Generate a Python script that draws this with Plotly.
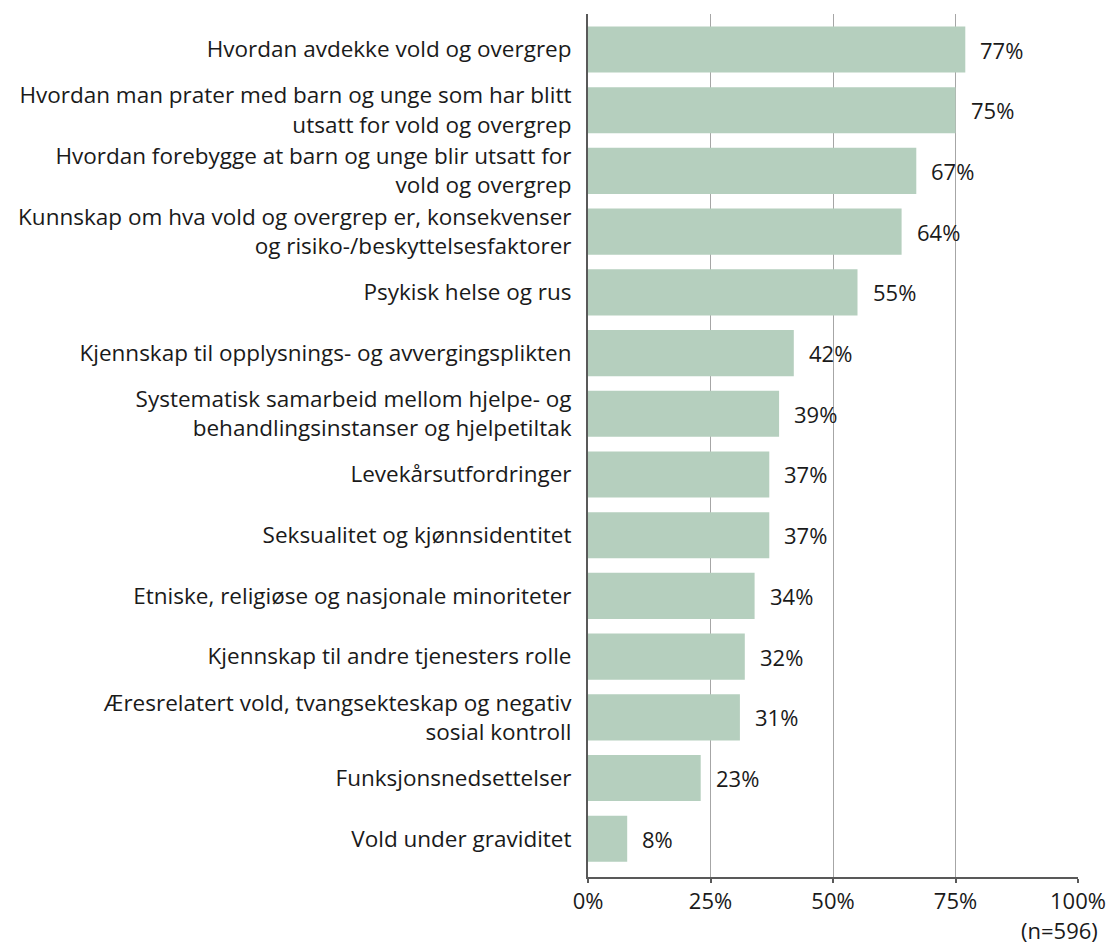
import plotly.graph_objects as go

categories = [
    "Hvordan avdekke vold og overgrep",
    "Hvordan man prater med barn og unge som har blitt<br>utsatt for vold og overgrep",
    "Hvordan forebygge at barn og unge blir utsatt for<br>vold og overgrep",
    "Kunnskap om hva vold og overgrep er, konsekvenser<br>og risiko-/beskyttelsesfaktorer",
    "Psykisk helse og rus",
    "Kjennskap til opplysnings- og avvergingsplikten",
    "Systematisk samarbeid mellom hjelpe- og<br>behandlingsinstanser og hjelpetiltak",
    "Levekårsutfordringer",
    "Seksualitet og kjønnsidentitet",
    "Etniske, religiøse og nasjonale minoriteter",
    "Kjennskap til andre tjenesters rolle",
    "Æresrelatert vold, tvangsekteskap og negativ<br>sosial kontroll",
    "Funksjonsnedsettelser",
    "Vold under graviditet",
]
values = [77, 75, 67, 64, 55, 42, 39, 37, 37, 34, 32, 31, 23, 8]
x_ticks = [0, 25, 50, 75, 100]
x_tick_labels = ["0%", "25%", "50%", "75%", "100%"]
sample_note = "(n=596)"

FONT = "Open Sans"
FS = 22
FS_CAT = 22.5
TEXT = "#1a1a1a"
BAR = "#b5cfbe"

# plot-area geometry in page pixels
W, H = 1108, 944
ML, MR, MT, MB = 588, 30, 14, 67

fig = go.Figure()
fig.add_trace(go.Bar(
    x=values,
    y=categories,
    orientation="h",
    width=0.76,
    marker=dict(color=BAR, line=dict(width=0)),
    hoverinfo="skip",
))

# value labels just past the end of each bar
for cat, v in zip(categories, values):
    fig.add_annotation(
        x=v, y=cat, text=f"{v}%", showarrow=False,
        xanchor="left", yanchor="middle", xshift=13,
        font=dict(family=FONT, size=FS, color=TEXT),
    )

# sample size note below the axis, right-aligned
fig.add_annotation(
    x=(1100 - ML) / (W - ML - MR),
    y=(H - MB - 930) / (H - MT - MB),
    xref="paper", yref="paper", text=sample_note,
    showarrow=False, xanchor="right", yanchor="middle",
    font=dict(family=FONT, size=FS, color=TEXT),
)

fig.update_layout(
    width=W, height=H,
    margin=dict(l=ML, r=MR, t=MT, b=MB, autoexpand=False),
    paper_bgcolor="white", plot_bgcolor="white",
    showlegend=False,
    font=dict(family=FONT, size=FS, color=TEXT),
    xaxis=dict(
        range=[0, 100],
        tickvals=x_ticks, ticktext=x_tick_labels,
        showgrid=True, gridcolor="#a6a6a6", gridwidth=1,
        showline=True, linecolor="#595959", linewidth=2,
        ticks="outside", ticklen=4, tickcolor="#595959", tickwidth=2,
        zeroline=False,
        tickfont=dict(family=FONT, size=FS, color=TEXT),
    ),
    yaxis=dict(
        type="category",
        range=[13.63, -0.585],
        showgrid=False,
        showline=True, linecolor="#595959", linewidth=2,
        ticks="outside", ticklen=10, tickcolor="rgba(0,0,0,0)",
        tickfont=dict(family=FONT, size=FS_CAT, color=TEXT),
    ),
)

fig.write_html("out.html")
